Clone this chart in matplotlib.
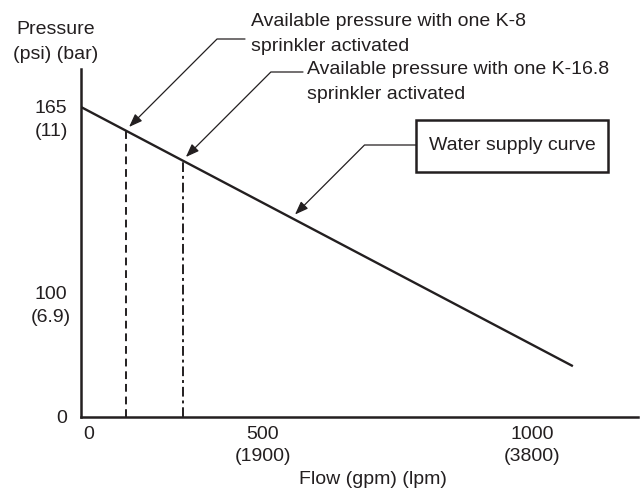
import numpy as np
import matplotlib.pyplot as plt
from matplotlib.patches import Rectangle

plt.rcParams['font.family'] = ['Liberation Sans', 'DejaVu Sans']

# water supply curve (gpm, psi)
supply_flow = [0, 1076]
supply_psi = [165, 41]

# available pressure at each sprinkler's demand flow
k8_flow, k8_psi = 124, 157
k168_flow, k168_psi = 280, 146.5
# point on the supply curve that the callout points to
curve_flow, curve_psi = 554, 126.4

x_ticks = [0, 500, 1000]
x_tick_labels = ['0', '500\n(1900)', '1000\n(3800)']
y_ticks = [0, 100, 165]
y_tick_labels = ['0', '100\n(6.9)', '165\n(11)']

INK = '#231f20'
W, H = 641, 490
FS = 14


def piecewise_scale(values, lengths):
    """Schematic axis: linear between the labelled values, extended past the ends."""
    values = np.asarray(values, dtype=float)
    lengths = np.asarray(lengths, dtype=float)

    def stretch(v, a, b):
        v = np.asarray(v, dtype=float)
        out = np.interp(v, a, b)
        lo = (b[1] - b[0]) / (a[1] - a[0])
        hi = (b[-1] - b[-2]) / (a[-1] - a[-2])
        out = np.where(v < a[0], b[0] + (v - a[0]) * lo, out)
        out = np.where(v > a[-1], b[-1] + (v - a[-1]) * hi, out)
        return out

    return (lambda v: stretch(v, values, lengths),
            lambda v: stretch(v, lengths, values))


def fig_px(x, y):
    # image-style pixel position (origin top-left) -> figure pixels
    return (x, H - y)


fig = plt.figure(figsize=(W / 100, H / 100), dpi=100)
ax = fig.add_axes([81 / W, 73 / H, 557 / W, 348 / H])

x_fwd, x_inv = piecewise_scale(x_ticks, [0, 182, 451])
y_fwd, y_inv = piecewise_scale(y_ticks, [0, 124, 310])
ax.set_xscale('function', functions=(x_fwd, x_inv))
ax.set_yscale('function', functions=(y_fwd, y_inv))
ax.set_xlim(0, float(x_inv(557)))
ax.set_ylim(0, float(y_inv(348)))

ax.set_xticks([])
ax.set_yticks([])
for side in ('top', 'right'):
    ax.spines[side].set_visible(False)
for side in ('left', 'bottom'):
    ax.spines[side].set_linewidth(1.8)
    ax.spines[side].set_color(INK)

# tick labels, metric value underneath
for v, lab in zip(x_ticks, x_tick_labels):
    ax.annotate(lab, xy=(v, 0), xycoords=ax.get_xaxis_transform(),
                xytext=(2 if v == 0 else 0, -9), textcoords='offset pixels',
                ha='left' if v == 0 else 'center', va='top',
                fontsize=FS, color=INK, linespacing=1.4, multialignment='center')
for v, lab in zip(y_ticks, y_tick_labels):
    ax.annotate(lab, xy=(0, v), xycoords=ax.get_yaxis_transform(),
                xytext=(-19 if v == 0 else -30, 7), textcoords='offset pixels',
                ha='center', va='top', fontsize=FS, color=INK,
                linespacing=1.5, multialignment='center')

# sprinkler drop lines
ax.plot([k8_flow, k8_flow], [0, k8_psi], color=INK, lw=1.4, ls=(0, (4, 2.5)))
ax.plot([k168_flow, k168_flow], [0, k168_psi], color=INK, lw=1.4,
        ls=(0, (5, 2, 1.5, 2)))

# water supply curve
ax.plot(supply_flow, supply_psi, color=INK, lw=1.7, solid_capstyle='butt')

fig.text(56 / W, 1 - 21 / H, 'Pressure\n(psi) (bar)', ha='center', va='top',
         fontsize=FS, color=INK, linespacing=1.6)
fig.text(372.5 / W, 1 - 471 / H, 'Flow (gpm) (lpm)', ha='center', va='top',
         fontsize=FS, color=INK)

fig.text(251 / W, 1 - 13 / H,
         'Available pressure with one K-8\nsprinkler activated',
         ha='left', va='top', fontsize=FS, color=INK, linespacing=1.6)
fig.text(307 / W, 1 - 61 / H,
         'Available pressure with one K-16.8\nsprinkler activated',
         ha='left', va='top', fontsize=FS, color=INK, linespacing=1.6)

fig.add_artist(Rectangle((416 / W, 1 - 172 / H), 192 / W, 52 / H,
                         transform=fig.transFigure, fill=False, lw=1.8, ec=INK))
fig.text(512 / W, 1 - 146 / H, 'Water supply curve', ha='center', va='center',
         fontsize=FS, color=INK)

arrow = dict(arrowstyle='-|>,head_length=0.8,head_width=0.3', color=INK,
             lw=0.9, shrinkA=0, shrinkB=3)
callouts = [
    ((k8_flow, k8_psi), fig_px(245, 39), 45),
    ((k168_flow, k168_psi), fig_px(303, 72), 45),
    ((curve_flow, curve_psi), fig_px(416, 145), 45),
]
for target, start, ang in callouts:
    ax.annotate('', xy=target, xycoords='data', xytext=start,
                textcoords='figure pixels',
                arrowprops=dict(arrow,
                                connectionstyle=f'angle,angleA=0,angleB={ang},rad=0'),
                annotation_clip=False)

fig.savefig('out.png', dpi=100)
